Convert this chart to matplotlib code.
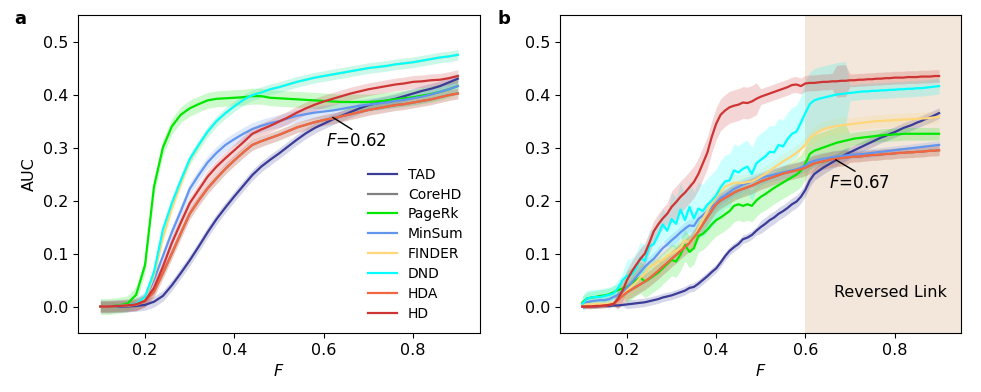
import numpy as np
import matplotlib
matplotlib.use('Agg')
import matplotlib.pyplot as plt

methods = ['TAD', 'CoreHD', 'PageRk', 'MinSum', 'FINDER', 'DND', 'HDA', 'HD']
colors = ['#3b3b98', 'gray', '#00e800', 'cornflowerblue', '#fdd77a', 'cyan', '#f26640', '#cf3434']

# panel a : F = 0.10 ... 0.90, step 0.02
f_a = np.round(np.arange(0.10, 0.901, 0.02), 2)
tad_a = [0, 0, 0, 0, 0.001, 0.003, 0.009, 0.02, 0.04, 0.063, 0.087,
         0.113, 0.14, 0.165, 0.187, 0.208, 0.228, 0.248, 0.264, 0.277, 0.289,
         0.302, 0.315, 0.327, 0.337, 0.345, 0.353, 0.36, 0.367, 0.374, 0.38,
         0.384, 0.388, 0.392, 0.397, 0.402, 0.407, 0.411, 0.416, 0.423, 0.43]
pagerk_a = [0, 0, 0.002, 0.005, 0.022, 0.078, 0.226, 0.3, 0.34, 0.362, 0.374,
            0.382, 0.389, 0.392, 0.393, 0.394, 0.395, 0.397, 0.397, 0.394, 0.393,
            0.392, 0.391, 0.39, 0.389, 0.388, 0.387, 0.386, 0.386, 0.386, 0.386,
            0.387, 0.389, 0.391, 0.393, 0.395, 0.398, 0.401, 0.405, 0.41, 0.416]
minsum_a = [0, 0, 0.001, 0.002, 0.004, 0.015, 0.05, 0.095, 0.14, 0.18, 0.222,
            0.248, 0.272, 0.29, 0.305, 0.316, 0.326, 0.335, 0.341, 0.346, 0.35,
            0.355, 0.36, 0.363, 0.366, 0.368, 0.37, 0.373, 0.376, 0.379, 0.381,
            0.383, 0.385, 0.388, 0.39, 0.393, 0.396, 0.4, 0.405, 0.41, 0.416]
finder_a = [0, 0, 0.001, 0.002, 0.004, 0.014, 0.058, 0.13, 0.185, 0.232, 0.275,
            0.303, 0.329, 0.349, 0.365, 0.378, 0.39, 0.399, 0.405, 0.41, 0.414,
            0.419, 0.424, 0.428, 0.432, 0.435, 0.438, 0.441, 0.444, 0.447, 0.45,
            0.452, 0.454, 0.457, 0.459, 0.461, 0.464, 0.467, 0.47, 0.472, 0.475]
dnd_a = [0, 0, 0.001, 0.002, 0.005, 0.018, 0.065, 0.145, 0.195, 0.238, 0.278,
         0.305, 0.33, 0.35, 0.365, 0.378, 0.39, 0.399, 0.404, 0.41, 0.414,
         0.419, 0.424, 0.428, 0.432, 0.435, 0.438, 0.441, 0.444, 0.447, 0.45,
         0.452, 0.454, 0.457, 0.459, 0.461, 0.464, 0.467, 0.47, 0.472, 0.475]
hda_a = [0, 0, 0.001, 0.002, 0.003, 0.01, 0.028, 0.063, 0.1, 0.138, 0.175,
         0.2, 0.223, 0.242, 0.26, 0.276, 0.291, 0.305, 0.312, 0.318, 0.324,
         0.331, 0.338, 0.343, 0.348, 0.352, 0.355, 0.359, 0.363, 0.367, 0.371,
         0.374, 0.377, 0.38, 0.382, 0.385, 0.388, 0.391, 0.395, 0.399, 0.402]
hd_a = [0, 0, 0.001, 0.002, 0.004, 0.011, 0.035, 0.075, 0.12, 0.158, 0.195,
        0.22, 0.245, 0.264, 0.28, 0.295, 0.31, 0.326, 0.334, 0.341, 0.349,
        0.357, 0.366, 0.374, 0.381, 0.387, 0.392, 0.397, 0.402, 0.406, 0.41,
        0.413, 0.416, 0.419, 0.421, 0.424, 0.425, 0.427, 0.428, 0.431, 0.435]
corehd_a = list(hda_a)  # hidden under HDA
sd_a = [0.01, 0.01, 0.015, 0.012, 0.01, 0.01, 0.01, 0.012]

# panel b : F = 0.10 ... 0.90, step 0.01
f_b = np.round(np.arange(0.10, 0.901, 0.01), 2)
tad_b = [0, 0, 0, 0, 0.001, 0.001, 0.001, 0.002, 0.002, 0.003, 0.004,
         0.005, 0.006, 0.007, 0.008, 0.01, 0.012, 0.014, 0.017, 0.019, 0.021,
         0.024, 0.027, 0.03, 0.035, 0.037, 0.043, 0.05, 0.057, 0.065, 0.072,
         0.083, 0.095, 0.105, 0.112, 0.118, 0.127, 0.13, 0.135, 0.143, 0.15,
         0.156, 0.163, 0.168, 0.175, 0.18, 0.186, 0.193, 0.198, 0.207, 0.22,
         0.238, 0.25, 0.256, 0.262, 0.267, 0.272, 0.277, 0.282, 0.287, 0.291,
         0.295, 0.299, 0.303, 0.307, 0.311, 0.315, 0.319, 0.322, 0.326, 0.329,
         0.333, 0.337, 0.34, 0.343, 0.347, 0.35, 0.354, 0.357, 0.361, 0.365]
pagerk_b = [0.008, 0.015, 0.017, 0.018, 0.02, 0.021, 0.023, 0.027, 0.031, 0.034, 0.037,
            0.043, 0.05, 0.055, 0.047, 0.052, 0.058, 0.064, 0.072, 0.08, 0.088,
            0.085, 0.098, 0.116, 0.103, 0.11, 0.133, 0.137, 0.145, 0.155, 0.163,
            0.168, 0.174, 0.18, 0.19, 0.193, 0.19, 0.193, 0.19, 0.2, 0.207,
            0.212, 0.218, 0.224, 0.229, 0.234, 0.239, 0.244, 0.249, 0.256, 0.27,
            0.288, 0.294, 0.297, 0.3, 0.303, 0.306, 0.309, 0.311, 0.313, 0.315,
            0.317, 0.318, 0.319, 0.32, 0.321, 0.322, 0.323, 0.324, 0.324, 0.325,
            0.325, 0.326, 0.326, 0.326, 0.326, 0.326, 0.326, 0.326, 0.326, 0.326]
minsum_b = [0.005, 0.008, 0.01, 0.011, 0.012, 0.012, 0.014, 0.018, 0.022, 0.028, 0.035,
            0.045, 0.055, 0.065, 0.075, 0.083, 0.09, 0.1, 0.11, 0.117, 0.125,
            0.132, 0.14, 0.147, 0.153, 0.152, 0.165, 0.172, 0.18, 0.188, 0.195,
            0.205, 0.21, 0.216, 0.222, 0.226, 0.23, 0.233, 0.236, 0.239, 0.242,
            0.245, 0.247, 0.249, 0.251, 0.253, 0.255, 0.257, 0.259, 0.262, 0.266,
            0.272, 0.275, 0.277, 0.279, 0.28, 0.282, 0.283, 0.284, 0.285, 0.286,
            0.287, 0.287, 0.288, 0.289, 0.29, 0.291, 0.292, 0.293, 0.294, 0.295,
            0.296, 0.297, 0.298, 0.299, 0.3, 0.301, 0.302, 0.303, 0.304, 0.305]
finder_b = [0.003, 0.004, 0.004, 0.005, 0.005, 0.005, 0.006, 0.008, 0.012, 0.02, 0.03,
            0.038, 0.045, 0.055, 0.062, 0.075, 0.078, 0.085, 0.088, 0.095, 0.1,
            0.105, 0.11, 0.125, 0.12, 0.128, 0.148, 0.165, 0.18, 0.195, 0.207,
            0.217, 0.226, 0.23, 0.233, 0.234, 0.233, 0.235, 0.236, 0.24, 0.245,
            0.25, 0.256, 0.262, 0.268, 0.274, 0.279, 0.284, 0.29, 0.297, 0.305,
            0.318, 0.325, 0.33, 0.335, 0.337, 0.339, 0.341, 0.342, 0.343, 0.344,
            0.345, 0.346, 0.347, 0.348, 0.349, 0.35, 0.35, 0.351, 0.351, 0.352,
            0.352, 0.353, 0.353, 0.354, 0.354, 0.355, 0.355, 0.356, 0.357, 0.358]
dnd_b = [0.005, 0.015, 0.017, 0.018, 0.018, 0.02, 0.022, 0.025, 0.035, 0.05, 0.058,
         0.06, 0.072, 0.092, 0.086, 0.113, 0.118, 0.135, 0.155, 0.143, 0.165,
         0.156, 0.183, 0.163, 0.188, 0.166, 0.185, 0.18, 0.192, 0.2, 0.21,
         0.225, 0.236, 0.238, 0.257, 0.253, 0.26, 0.264, 0.25, 0.27, 0.277,
         0.283, 0.292, 0.291, 0.305, 0.302, 0.316, 0.326, 0.33, 0.347, 0.365,
         0.382, 0.389, 0.392, 0.394, 0.396, 0.398, 0.4, 0.401, 0.402, 0.403,
         0.404, 0.405, 0.406, 0.406, 0.407, 0.407, 0.408, 0.408, 0.409, 0.409,
         0.41, 0.41, 0.411, 0.411, 0.412, 0.412, 0.413, 0.414, 0.415, 0.416]
hda_b = [0, 0, 0, 0.001, 0.001, 0.002, 0.003, 0.005, 0.012, 0.02, 0.027,
         0.032, 0.037, 0.042, 0.047, 0.053, 0.06, 0.067, 0.075, 0.082, 0.09,
         0.097, 0.105, 0.112, 0.12, 0.13, 0.142, 0.155, 0.168, 0.181, 0.193,
         0.2, 0.205, 0.21, 0.215, 0.219, 0.222, 0.225, 0.228, 0.232, 0.236,
         0.239, 0.242, 0.245, 0.248, 0.251, 0.253, 0.255, 0.257, 0.259, 0.262,
         0.266, 0.27, 0.272, 0.274, 0.276, 0.278, 0.279, 0.28, 0.281, 0.282,
         0.283, 0.283, 0.284, 0.285, 0.286, 0.286, 0.287, 0.288, 0.288, 0.289,
         0.29, 0.29, 0.291, 0.291, 0.292, 0.292, 0.293, 0.294, 0.294, 0.295]
hd_b = [0, 0, 0, 0.001, 0.001, 0.002, 0.003, 0.005, 0.015, 0.03, 0.05,
        0.065, 0.078, 0.09, 0.1, 0.12, 0.142, 0.155, 0.166, 0.175, 0.188,
        0.197, 0.207, 0.215, 0.225, 0.235, 0.25, 0.27, 0.29, 0.32, 0.345,
        0.362, 0.37, 0.376, 0.379, 0.381, 0.385, 0.384, 0.387, 0.392, 0.396,
        0.399, 0.402, 0.405, 0.408, 0.411, 0.414, 0.418, 0.419, 0.416, 0.421,
        0.422, 0.422, 0.423, 0.424, 0.424, 0.425, 0.425, 0.426, 0.426, 0.427,
        0.427, 0.428, 0.428, 0.429, 0.429, 0.43, 0.43, 0.431, 0.431, 0.432,
        0.432, 0.432, 0.433, 0.433, 0.433, 0.434, 0.434, 0.434, 0.435, 0.435]
corehd_b = list(hda_b)  # hidden under HDA

tad_b_sd = [0.003] * 10 + [0.008] * 30 + [0.012] * 20 + [0.01] * 21
hda_b_sd = [0.004] * 8 + [0.015] * 52 + [0.01] * 21
pagerk_b_sd = [0.012] * 10 + [0.03] * 50 + [0.012] * 21
minsum_b_sd = [0.006] * 10 + [0.012] * 50 + [0.008] * 21
finder_b_sd = [0.005] * 10 + [0.015] * 50 + [0.012] * 21
dnd_b_sd = [0.015] * 10 + [0.03] * 10 + [0.05] * 30 + [0.06] * 10 + [0.015] * 21
hd_b_sd = [0.004] * 8 + [0.02] * 12 + [0.03] * 20 + [0.015] * 17 + [0.03] * 3 + [0.012] * 21

series_a = [tad_a, corehd_a, pagerk_a, minsum_a, finder_a, dnd_a, hda_a, hd_a]
series_b = [tad_b, corehd_b, pagerk_b, minsum_b, finder_b, dnd_b, hda_b, hd_b]
sd_b = [tad_b_sd, hda_b_sd, pagerk_b_sd, minsum_b_sd, finder_b_sd, dnd_b_sd, hda_b_sd, hd_b_sd]

fig = plt.figure(figsize=(9.81, 3.92), dpi=100)
ax1 = fig.add_axes([0.0795, 0.1505, 0.41, 0.811])
ax2 = fig.add_axes([0.571, 0.1505, 0.409, 0.811])

for i, name in enumerate(methods):
    y = np.array(series_a[i])
    ax1.fill_between(f_a, y - sd_a[i], y + sd_a[i], color=colors[i], alpha=0.2, lw=0)
    ax1.plot(f_a, y, color=colors[i], lw=1.6, label=name)

ax2.axvspan(0.6, 0.95, color='#f3e6da', zorder=0, lw=0)
for i, name in enumerate(methods):
    y = np.array(series_b[i])
    s = np.array(sd_b[i])
    ax2.fill_between(f_b, y - s, y + s, color=colors[i], alpha=0.2, lw=0)
    ax2.plot(f_b, y, color=colors[i], lw=1.6, label=name)

for ax in (ax1, ax2):
    ax.set_xlim(0.05, 0.95)
    ax.set_ylim(-0.05, 0.55)
    ax.set_xticks([0.2, 0.4, 0.6, 0.8])
    ax.set_yticks([0.0, 0.1, 0.2, 0.3, 0.4, 0.5])
    ax.tick_params(labelsize=11.5)
    ax.set_xlabel('$F$', fontsize=11.5)

ax1.set_ylabel('AUC', fontsize=11.5)

arrow = dict(arrowstyle='-', color='black', lw=1, relpos=(0.5, 1.0), shrinkA=0, shrinkB=0)
ax1.annotate('$F$=0.62', xy=(0.62, 0.357), xytext=(0.673, 0.312), ha='center', va='center',
             fontsize=12, arrowprops=arrow)
ax2.annotate('$F$=0.67', xy=(0.668, 0.277), xytext=(0.722, 0.233), ha='center', va='center',
             fontsize=12, arrowprops=arrow)
ax2.text(0.79, 0.027, 'Reversed Link', ha='center', va='center', fontsize=11.5)

ax1.legend(loc='lower right', frameon=False, fontsize=10, labelspacing=0.42,
           handlelength=2.1, bbox_to_anchor=(0.99, 0.0))

fig.text(0.015, 0.94, 'a', fontsize=13, weight='bold')
fig.text(0.507, 0.94, 'b', fontsize=13, weight='bold')

fig.savefig('out.png', dpi=100)
